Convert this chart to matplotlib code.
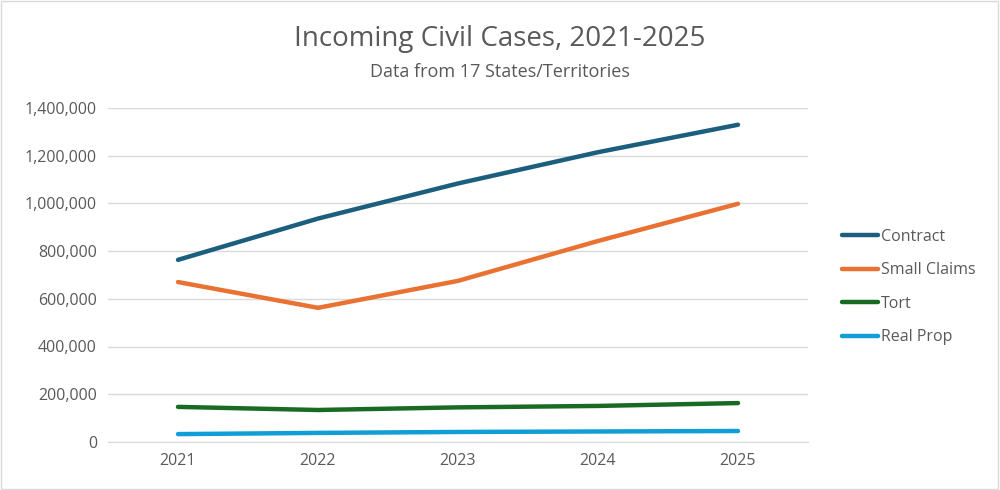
import matplotlib.pyplot as plt
from matplotlib.ticker import FuncFormatter
from matplotlib.patches import Rectangle

plt.rcParams['font.family'] = ['Open Sans', 'DejaVu Sans']

years = ['2021', '2022', '2023', '2024', '2025']
contract = [763000, 936000, 1083000, 1214000, 1329000]
small_claims = [670000, 562000, 675000, 842000, 998000]
tort = [147000, 134000, 145000, 151000, 163000]
real_prop = [33000, 38000, 42000, 44000, 46000]

series = [('Contract', contract, '#1B5E7E'),
          ('Small Claims', small_claims, '#E97132'),
          ('Tort', tort, '#196B24'),
          ('Real Prop', real_prop, '#0F9ED5')]

fig = plt.figure(figsize=(10, 4.9), dpi=100)
ax = fig.add_axes([0.108, 0.098, 0.70, 0.682])
x = range(len(years))
for name, vals, col in series:
    ax.plot(x, vals, color=col, lw=3.2, label=name, solid_capstyle='round')

ax.set_xlim(-0.5, 4.5)
ax.set_ylim(0, 1400000)
ax.set_yticks(range(0, 1400001, 200000))
ax.yaxis.set_major_formatter(FuncFormatter(lambda v, p: f'{int(v):,}'))
ax.set_xticks(list(x))
ax.set_xticklabels(years)
ax.grid(axis='y', color='#D9D9D9', lw=1)
ax.set_axisbelow(True)
for s in ['top', 'right', 'left']:
    ax.spines[s].set_visible(False)
ax.spines['bottom'].set_color('#D9D9D9')
ax.tick_params(length=0, labelsize=11.5, labelcolor='#595959', pad=8)

fig.text(0.5, 0.92, 'Incoming Civil Cases, 2021-2025', ha='center', va='center',
         fontsize=20, color='#595959')
fig.text(0.5, 0.853, 'Data from 17 States/Territories', ha='center', va='center',
         fontsize=13, color='#595959')

fig.legend(loc='center left', bbox_to_anchor=(0.828, 0.414), frameon=False,
           fontsize=11.5, labelcolor='#595959', handlelength=2.2, handletextpad=0.2,
           labelspacing=1.1)

fig.patches.append(Rectangle((0.001, 0.002), 0.997, 0.995, transform=fig.transFigure,
                             fill=False, edgecolor='#D9D9D9', lw=1))
fig.savefig('out.png', dpi=100)
